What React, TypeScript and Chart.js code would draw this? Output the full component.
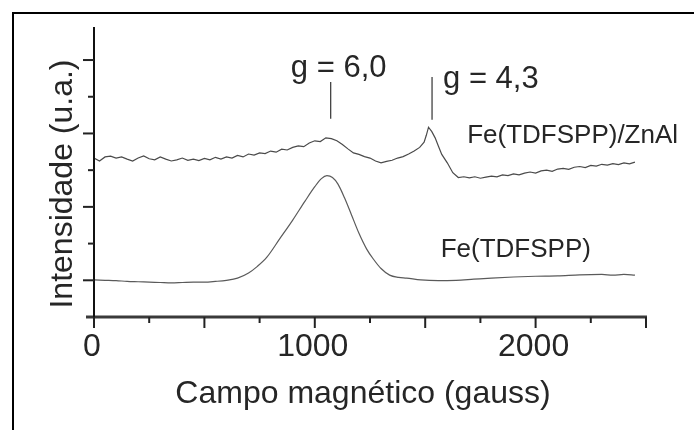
import { useEffect, useRef } from "react";
import { Chart, registerables } from "chart.js";

Chart.register(...registerables);

// ---------- data ----------
const fieldUpper = [
  0, 25, 50, 75, 100, 125, 150, 175, 200, 225, 250, 275, 300, 325, 350, 375, 400, 425, 450, 475,
  500, 525, 550, 575, 600, 625, 650, 675, 700, 725, 750, 775, 800, 825, 850, 875, 900, 925, 950, 975,
  1000, 1025, 1050, 1075, 1100, 1125, 1150, 1175, 1200, 1225, 1250, 1275, 1300, 1325, 1350, 1375, 1400, 1425, 1450, 1475,
  1495, 1505, 1515, 1530, 1545, 1560, 1575, 1600, 1625, 1650, 1675, 1700, 1725, 1750, 1775, 1800, 1825, 1850, 1875, 1900,
  1925, 1950, 1975, 2000, 2025, 2050, 2075, 2100, 2125, 2150, 2175, 2200, 2225, 2250, 2275, 2300, 2325, 2350, 2375, 2400,
  2425, 2450,
];
const intensityUpper = [
  4.33, 4.25, 4.36, 4.38, 4.33, 4.36, 4.30, 4.25, 4.33, 4.39, 4.31, 4.28, 4.36, 4.30, 4.25, 4.28, 4.33, 4.27, 4.30, 4.26,
  4.32, 4.28, 4.35, 4.30, 4.36, 4.33, 4.40, 4.36, 4.44, 4.41, 4.47, 4.45, 4.52, 4.49, 4.57, 4.55, 4.62, 4.66, 4.64, 4.74,
  4.80, 4.78, 4.88, 4.86, 4.80, 4.70, 4.58, 4.47, 4.43, 4.37, 4.33, 4.25, 4.20, 4.24, 4.27, 4.33, 4.37, 4.44, 4.52, 4.62,
  4.76, 4.95, 5.17, 5.05, 4.88, 4.65, 4.43, 4.20, 3.93, 3.80, 3.82, 3.79, 3.82, 3.78, 3.81, 3.84, 3.82, 3.87, 3.85, 3.90,
  3.87, 3.92, 3.95, 3.92, 3.98, 4.00, 3.97, 4.03, 4.05, 4.02, 4.08, 4.10, 4.07, 4.13, 4.11, 4.16, 4.14, 4.18, 4.15, 4.20,
  4.17, 4.22,
];

const fieldLower = [
  0, 50, 100, 150, 200, 250, 300, 350, 400, 450, 500, 550, 600, 650, 700, 740, 783, 840, 900, 955,
  1000, 1030, 1055, 1080, 1105, 1135, 1165, 1200, 1235, 1265, 1300, 1339, 1380, 1416, 1480, 1560, 1640, 1720, 1800,
  1900, 2000, 2100, 2200, 2300, 2350, 2400, 2450,
];
const intensityLower = [
  1.01, 1.00, 0.99, 0.97, 0.96, 0.95, 0.94, 0.93, 0.94, 0.95, 0.95, 0.97, 1.00, 1.06, 1.20, 1.38, 1.63, 2.12, 2.64, 3.15,
  3.55, 3.77, 3.85, 3.80, 3.62, 3.24, 2.80, 2.28, 1.85, 1.58, 1.32, 1.14, 1.08, 1.06, 1.01, 0.99, 1.00, 1.03, 1.06,
  1.09, 1.11, 1.12, 1.15, 1.16, 1.14, 1.16, 1.14,
];

const seriesNames = ["Fe(TDFSPP)/ZnAl", "Fe(TDFSPP)"];
const seriesLabelField = [1690, 1570];
const seriesLabelIntensity = [4.74, 1.63];

const xMajorTicks = [0, 500, 1000, 1500, 2000, 2500];
const xMinorTicks = [250, 750, 1250, 1750, 2250];
const xLabelValues = [0, 1000, 2000];
const xTickLabels = ["0", "1000", "2000"];
const yMajorTicks = [1, 3, 5, 7];
const yMinorTicks = [2, 4, 6];

const markerLabels = ["g = 6,0", "g = 4,3"];
const markerField = [1072, 1531];
const markerFrom = [5.4, 5.37];
const markerTo = [6.4, 6.54];

const xTitle = "Campo magnético (gauss)";
const yTitle = "Intensidade (u.a.)";

const FONT = "'Liberation Sans', Arial, sans-serif";
const TEXT = "#262626";

const decorPlugin = {
  id: "decor",
  afterDraw(chart: any) {
    const ctx = chart.ctx as CanvasRenderingContext2D;
    const xs = chart.scales.x;
    const ys = chart.scales.y;
    const x0 = xs.getPixelForValue(0);
    const y0 = ys.getPixelForValue(0);
    ctx.save();

    // x axis line
    ctx.strokeStyle = "#3a3a3a";
    ctx.lineWidth = 3;
    ctx.beginPath();
    ctx.moveTo(x0 - 8, y0);
    ctx.lineTo(xs.getPixelForValue(2500) + 1, y0);
    ctx.stroke();

    // y axis line
    ctx.strokeStyle = "#111";
    ctx.lineWidth = 2;
    ctx.beginPath();
    ctx.moveTo(x0, ys.getPixelForValue(7.9));
    ctx.lineTo(x0, y0);
    ctx.stroke();

    // x ticks
    ctx.strokeStyle = "#222";
    ctx.lineWidth = 2;
    for (const v of xMajorTicks) {
      const p = xs.getPixelForValue(v);
      ctx.beginPath();
      ctx.moveTo(p, y0);
      ctx.lineTo(p, y0 + 11);
      ctx.stroke();
    }
    for (const v of xMinorTicks) {
      const p = xs.getPixelForValue(v);
      ctx.beginPath();
      ctx.moveTo(p, y0);
      ctx.lineTo(p, y0 + 6);
      ctx.stroke();
    }
    // y ticks
    for (const v of yMajorTicks) {
      const p = ys.getPixelForValue(v);
      ctx.beginPath();
      ctx.moveTo(x0, p);
      ctx.lineTo(x0 - 11, p);
      ctx.stroke();
    }
    for (const v of yMinorTicks) {
      const p = ys.getPixelForValue(v);
      ctx.beginPath();
      ctx.moveTo(x0, p);
      ctx.lineTo(x0 - 6, p);
      ctx.stroke();
    }

    // tick labels
    ctx.fillStyle = TEXT;
    ctx.font = `32px ${FONT}`;
    ctx.textAlign = "center";
    ctx.textBaseline = "alphabetic";
    xLabelValues.forEach((v, i) => {
      ctx.fillText(xTickLabels[i], xs.getPixelForValue(v) - 2, y0 + 39);
    });

    // axis titles
    ctx.font = `32px ${FONT}`;
    ctx.fillText(xTitle, (x0 + xs.getPixelForValue(2500)) / 2 - 7, y0 + 86);
    ctx.save();
    ctx.translate(x0 - 22, (ys.getPixelForValue(0) + ys.getPixelForValue(7.9)) / 2 + 12);
    ctx.rotate(-Math.PI / 2);
    ctx.fillText(yTitle, 0, 0);
    ctx.restore();

    // g markers
    ctx.strokeStyle = "#333";
    ctx.lineWidth = 1.2;
    ctx.font = `31px ${FONT}`;
    markerField.forEach((f, i) => {
      const px = xs.getPixelForValue(f);
      const top = ys.getPixelForValue(markerTo[i]);
      const bot = ys.getPixelForValue(markerFrom[i]);
      ctx.beginPath();
      ctx.moveTo(px, top);
      ctx.lineTo(px, bot);
      ctx.stroke();
      if (i === 0) {
        ctx.textAlign = "center";
        ctx.fillText(markerLabels[i], px + 8, top - 5);
      } else {
        ctx.textAlign = "left";
        ctx.fillText(markerLabels[i], px + 11, top + 11);
      }
    });

    // series labels
    ctx.font = `26px ${FONT}`;
    ctx.textAlign = "left";
    seriesNames.forEach((n, i) => {
      ctx.fillText(n, xs.getPixelForValue(seriesLabelField[i]), ys.getPixelForValue(seriesLabelIntensity[i]));
    });

    ctx.restore();
  },
};

export default function App() {
  const ref = useRef<HTMLCanvasElement | null>(null);
  useEffect(() => {
    if (!ref.current) return;
    const chart = new Chart(ref.current, {
      type: "line",
      data: {
        datasets: [
          {
            label: seriesNames[0],
            data: fieldUpper.map((x, i) => ({ x, y: intensityUpper[i] })),
            borderColor: "#4a4a4a",
            borderWidth: 1.2,
            pointRadius: 0,
            tension: 0,
            fill: false,
          },
          {
            label: seriesNames[1],
            data: fieldLower.map((x, i) => ({ x, y: intensityLower[i] })),
            borderColor: "#5a5a5a",
            borderWidth: 1.2,
            pointRadius: 0,
            cubicInterpolationMode: "monotone",
            fill: false,
          },
        ],
      },
      options: {
        animation: false,
        responsive: false,
        devicePixelRatio: 1,
        layout: { padding: { left: 94, right: 48, top: 27, bottom: 113 } },
        plugins: { legend: { display: false }, tooltip: { enabled: false } },
        scales: {
          x: { type: "linear", min: 0, max: 2500, display: false },
          y: { type: "linear", min: 0, max: 7.9, display: false },
        },
      },
      plugins: [decorPlugin],
    });
    return () => chart.destroy();
  }, []);

  return (
    <div style={{ position: "fixed", left: 0, top: 0, width: 694, height: 430, background: "#fff" }}>
      <div
        style={{
          position: "absolute",
          left: 12,
          top: 12,
          right: 0,
          bottom: 0,
          borderTop: "2px solid #000",
          borderLeft: "2px solid #000",
        }}
      />
      <canvas ref={ref} width={694} height={430} style={{ position: "absolute", left: 0, top: 0 }} />
    </div>
  );
}
